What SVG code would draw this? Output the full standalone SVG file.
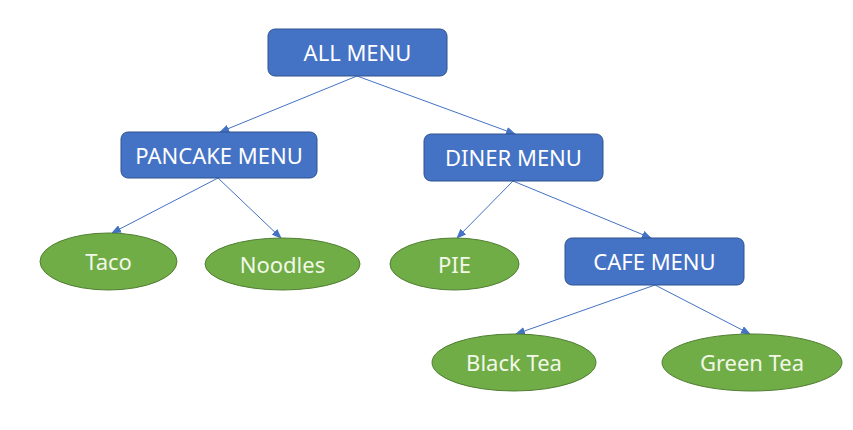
<svg xmlns="http://www.w3.org/2000/svg" width="853" height="430" viewBox="0 0 853 430">
<style>
.box{fill:#4472C4;stroke:#2F528F;stroke-width:1}
.ell{fill:#70AD47;stroke:#507E32;stroke-width:1}
.t{font-family:"Noto Sans","Open Sans",sans-serif;font-size:22px;fill:#ffffff;text-anchor:middle;dominant-baseline:central}
.tg{fill:#F2F8E8}
.c{stroke:#4472C4;stroke-width:1;fill:none;marker-end:url(#ah)}
</style>
<defs>
<marker id="ah" markerWidth="10" markerHeight="8" refX="9" refY="4" orient="auto" markerUnits="userSpaceOnUse">
<path d="M0,0 L10,4 L0,8 Z" fill="#4472C4"/>
</marker>
</defs>
<rect width="853" height="430" fill="#ffffff"/>
<g id="connectors">
<line class="c" x1="357" y1="76" x2="220" y2="132"/>
<line class="c" x1="357" y1="76" x2="515" y2="134"/>
<line class="c" x1="218" y1="178" x2="112" y2="233"/>
<line class="c" x1="218" y1="178" x2="281" y2="238"/>
<line class="c" x1="513" y1="181" x2="457" y2="238"/>
<line class="c" x1="513" y1="181" x2="651" y2="238"/>
<line class="c" x1="655" y1="285" x2="516" y2="334"/>
<line class="c" x1="655" y1="285" x2="750" y2="334"/>
</g>
<g id="all-menu"><rect class="box" x="268" y="29" width="179" height="47" rx="7"/><text class="t" x="357.5" y="52">ALL MENU</text></g>
<g id="pancake-menu"><rect class="box" x="121" y="132" width="196" height="46" rx="7"/><text class="t" x="219" y="154.5">PANCAKE MENU</text></g>
<g id="diner-menu"><rect class="box" x="424" y="134" width="179" height="47" rx="7"/><text class="t" x="513.5" y="157">DINER MENU</text></g>
<g id="cafe-menu"><rect class="box" x="565" y="238" width="179" height="47" rx="7"/><text class="t" x="654.5" y="261">CAFE MENU</text></g>
<g id="taco"><ellipse class="ell" cx="108.5" cy="261.5" rx="68.5" ry="28.5"/><text class="t tg" x="108.5" y="261">Taco</text></g>
<g id="noodles"><ellipse class="ell" cx="282.5" cy="264" rx="77.5" ry="26"/><text class="t tg" x="282.5" y="263.5">Noodles</text></g>
<g id="pie"><ellipse class="ell" cx="454.5" cy="264" rx="64.5" ry="26"/><text class="t tg" x="454.5" y="263.5">PIE</text></g>
<g id="black-tea"><ellipse class="ell" cx="514" cy="362.5" rx="82" ry="28.5"/><text class="t tg" x="514" y="362">Black Tea</text></g>
<g id="green-tea"><ellipse class="ell" cx="752" cy="362.5" rx="90" ry="28.5"/><text class="t tg" x="752" y="362">Green Tea</text></g>
</svg>
